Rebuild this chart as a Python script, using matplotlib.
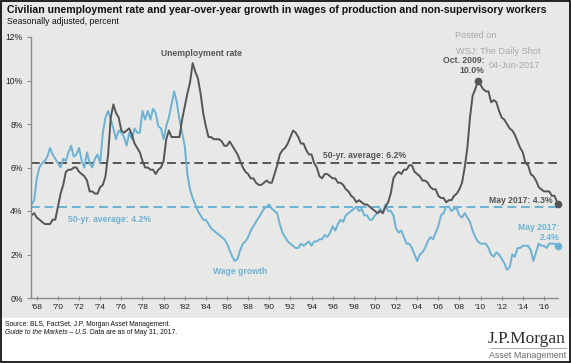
import numpy as np
import matplotlib.pyplot as plt
from matplotlib.patches import Rectangle

# quarterly readings, mid-1967 to Q1 2017, plus the last monthly print (May 2017)
start_year = 1967.5
last_date = 2017 + 4 / 12

unemployment = [
    3.8, 3.9,
    3.7, 3.6, 3.5, 3.4,   # 1968
    3.4, 3.4, 3.6, 3.6,
    4.2, 4.8, 5.2, 5.8,   # 1970
    5.9, 5.9, 6.0, 6.0,
    5.8, 5.7, 5.6, 5.4,
    4.9, 4.9, 4.8, 4.8,
    5.1, 5.2, 5.6, 6.6,
    8.3, 8.9, 8.5, 8.3,   # 1975
    7.7, 7.6, 7.7, 7.8,
    7.5, 7.1, 6.9, 6.7,
    6.3, 6.0, 6.0, 5.9,
    5.9, 5.7, 5.9, 6.0,
    6.3, 7.3, 7.7, 7.4,   # 1980
    7.4, 7.4, 7.4, 8.2,
    8.8, 9.4, 9.9, 10.8,
    10.4, 10.1, 9.4, 8.5,
    7.9, 7.4, 7.4, 7.3,
    7.3, 7.3, 7.2, 7.0,   # 1985
    7.0, 7.2, 7.0, 6.8,
    6.6, 6.3, 6.0, 5.8,
    5.7, 5.5, 5.5, 5.3,
    5.2, 5.2, 5.3, 5.4,
    5.3, 5.3, 5.7, 6.1,   # 1990
    6.6, 6.8, 6.9, 7.1,
    7.4, 7.7, 7.6, 7.4,
    7.1, 7.1, 6.8, 6.6,
    6.6, 6.2, 6.0, 5.6,
    5.5, 5.7, 5.7, 5.6,   # 1995
    5.5, 5.5, 5.3, 5.3,
    5.2, 5.0, 4.9, 4.7,
    4.6, 4.4, 4.5, 4.4,
    4.3, 4.3, 4.2, 4.1,
    4.0, 3.9, 4.0, 3.9,   # 2000
    4.2, 4.4, 4.8, 5.5,
    5.7, 5.8, 5.7, 5.9,
    5.9, 6.1, 6.1, 5.8,
    5.7, 5.6, 5.4, 5.4,
    5.3, 5.1, 5.0, 5.0,   # 2005
    4.7, 4.6, 4.6, 4.4,
    4.5, 4.5, 4.7, 4.8,
    5.0, 5.3, 6.0, 6.9,
    8.3, 9.3, 9.6, 10.0,
    9.8, 9.6, 9.5, 9.5,   # 2010
    9.0, 9.1, 9.0, 8.6,
    8.3, 8.2, 8.0, 7.8,
    7.7, 7.5, 7.2, 6.9,
    6.7, 6.2, 6.1, 5.7,
    5.6, 5.4, 5.1, 5.0,   # 2015
    4.9, 4.9, 4.9, 4.7,
    4.7,
    4.3,                  # May 2017
]

wages = [
    4.3, 4.5,
    5.5, 6.0, 6.2, 6.3,   # 1968
    6.5, 6.9, 6.6, 6.4,
    6.2, 6.0, 6.4, 6.3,   # 1970
    6.7, 7.0, 6.5, 6.6,
    6.9, 6.3, 6.0, 6.7,
    6.2, 6.0, 6.4, 6.6,
    6.2, 7.6, 8.3, 8.6,
    8.2, 7.8, 7.3, 7.7,   # 1975
    7.6, 7.4, 7.0, 7.6,
    7.3, 7.8, 7.6, 7.6,
    8.6, 8.2, 8.6, 8.2,
    8.7, 8.5, 7.9, 7.8,
    7.3, 7.9, 8.3, 8.9,   # 1980
    9.5, 9.0, 8.2, 7.6,
    7.0, 5.7, 5.0, 4.6,
    4.3, 4.0, 3.8, 3.6,
    3.6, 3.4, 3.2, 3.1,
    3.0, 2.9, 2.8, 2.7,   # 1985
    2.5, 2.2, 1.9, 1.7,
    1.8, 2.2, 2.5, 2.6,
    2.8, 3.1, 3.3, 3.5,
    3.7, 3.9, 4.1, 4.2,
    4.3, 4.1, 4.0, 3.9,   # 1990
    3.4, 3.0, 2.8, 2.6,
    2.5, 2.4, 2.3, 2.3,
    2.5, 2.4, 2.5, 2.6,
    2.4, 2.6, 2.6, 2.7,
    2.7, 2.9, 2.8, 3.0,   # 1995
    3.3, 3.1, 3.4, 3.6,
    3.5, 3.8, 3.9, 4.0,
    4.1, 4.2, 4.0, 4.1,
    3.8, 3.8, 3.6, 3.6,
    3.8, 3.9, 4.1, 3.9,   # 2000
    4.3, 4.0, 4.0, 3.8,
    3.2, 3.0, 3.1, 2.8,
    2.5, 2.5, 2.3, 2.0,
    1.7, 2.0, 2.1, 2.3,
    2.6, 2.8, 2.7, 3.0,   # 2005
    3.3, 3.8, 3.9, 4.2,
    4.2, 4.0, 4.1, 4.1,
    3.8, 3.7, 3.9, 3.7,
    3.5, 3.1, 2.8, 2.6,
    2.5, 2.5, 2.5, 2.3,   # 2010
    2.0, 1.9, 2.1, 2.0,
    1.8, 1.6, 1.3, 1.4,
    2.0, 1.9, 2.3, 2.3,
    2.4, 2.4, 2.4, 2.2,
    1.7, 2.1, 2.5, 2.4,   # 2015
    2.4, 2.3, 2.5, 2.5,
    2.5,
    2.4,                  # May 2017
]

unemp_avg = 6.2
wage_avg = 4.2
year_ticks = list(range(1968, 2017, 2))
year_labels = ["'%02d" % (y % 100) for y in year_ticks]
y_ticks = [0, 2, 4, 6, 8, 10, 12]
y_labels = ['%d%%' % v for v in y_ticks]

n_q = len(unemployment) - 1
dates = list(start_year + 0.25 * np.arange(n_q)) + [last_date]

GRAY = '#555555'
BLUE = '#6cb2d4'
BG = '#e8e8e6'

W, H = 571, 363
fig = plt.figure(figsize=(W / 100, H / 100), dpi=100)
fig.patch.set_facecolor('white')


def fx(px):
    return px / W


def fy(py):
    return 1 - py / H


# grey panel behind chart + outer frame
fig.patches.append(Rectangle((0, fy(318)), 1, 1 - fy(318), transform=fig.transFigure,
                             facecolor=BG, edgecolor='none', zorder=-5))
fig.patches.append(Rectangle((0.001, 0.002), 0.997, 0.996, transform=fig.transFigure,
                             facecolor='none', edgecolor='black', lw=1.2, zorder=10))

ax = fig.add_axes([fx(31), fy(298), fx(558) - fx(31), fy(37) - fy(298)])
ax.set_facecolor('none')
ax.set_zorder(2)

ax.axhline(unemp_avg, color=GRAY, lw=1.4, dashes=(4.5, 2.5))
ax.axhline(wage_avg, color=BLUE, lw=1.4, dashes=(4.5, 2.5))
ax.plot(dates, wages, color=BLUE, lw=1.4)
ax.plot(dates, unemployment, color=GRAY, lw=1.4)

# end-point / peak markers
peak_i = int(np.argmax(unemployment[150:])) + 150
ax.plot(dates[peak_i], unemployment[peak_i], 'o', color=GRAY, ms=4.5, clip_on=False)
ax.plot(dates[-1], unemployment[-1], 'o', color=GRAY, ms=4.5, clip_on=False)
ax.plot(dates[-1], wages[-1], 'o', color=BLUE, ms=4.5, clip_on=False)

ax.set_xlim(1967.45, 2017.33)
ax.set_ylim(0, 12)
ax.set_xticks(year_ticks)
ax.set_xticklabels(year_labels)
ax.set_yticks(y_ticks)
ax.set_yticklabels(y_labels)
for s in ['top', 'right']:
    ax.spines[s].set_visible(False)
for s in ['left', 'bottom']:
    ax.spines[s].set_color('#8a8a8a')
    ax.spines[s].set_linewidth(1.0)
ax.tick_params(axis='x', length=3, direction='inout', color='#8a8a8a', labelsize=6.0,
               labelcolor='#222222', pad=2.5)
ax.tick_params(axis='y', length=3, direction='out', color='#8a8a8a', labelsize=6.2,
               labelcolor='#222222', pad=3)
for lab in ax.get_xticklabels() + ax.get_yticklabels():
    lab.set_family('Liberation Sans')

txt = dict(family='Liberation Sans', fontsize=6.2)
ax.text(1983.6, 11.26, 'Unemployment rate', color=GRAY, ha='center', va='center',
        fontweight='bold', **txt)
ax.text(1987.25, 1.2, 'Wage growth', color=BLUE, ha='center', va='center',
        fontweight='bold', **txt)
ax.text(1999.0, 6.53, '50-yr. average: 6.2%', color=GRAY, ha='center', va='center',
        fontweight='bold', **txt)
ax.text(1974.9, 3.6, '50-yr. average: 4.2%', color=BLUE, ha='center', va='center',
        fontweight='bold', **txt)
ax.text(2010.35, 10.68, 'Oct. 2009:\n10.0%', color=GRAY, ha='right', va='center',
        fontweight='bold', multialignment='right', linespacing=1.15, **txt)
ax.text(2016.85, 4.5, 'May 2017: 4.3%', color=GRAY, ha='right', va='center',
        fontweight='bold', **txt)
ax.text(2017.45, 3.0, 'May 2017:\n2.4%', color=BLUE, ha='right', va='center',
        fontweight='bold', multialignment='right', linespacing=1.15, **txt)

# watermark
wm = dict(family='Liberation Sans', fontsize=6.6, color='#a8a8a8', va='center', ha='left')
fig.text(fx(455), fy(35), 'Posted on', **wm)
fig.text(fx(456), fy(51), 'WSJ: The Daily Shot', **wm)
fig.text(fx(489), fy(66), '04-Jun-2017', **wm)

# titles
fig.text(fx(7), fy(10), 'Civilian unemployment rate and year-over-year growth in wages of '
         'production and non-supervisory workers', family='Liberation Sans',
         fontweight='bold', fontsize=7.6, color='#111111', va='center', ha='left')
fig.text(fx(7), fy(22), 'Seasonally adjusted, percent', family='Liberation Sans',
         fontsize=6.2, color='#111111', va='center', ha='left')

# footer
fig.text(fx(5), fy(325), 'Source: BLS, FactSet, J.P. Morgan Asset Management.',
         family='Liberation Sans', fontsize=4.9, color='#111111', va='center')
foot = fig.text(fx(5), fy(333), 'Guide to the Markets \u2013 U.S.', family='Liberation Sans',
                fontsize=4.9, style='italic', color='#111111', va='center')
fig.canvas.draw()
bb = foot.get_window_extent()
fig.text(bb.x1 / W + 0.003, fy(333), 'Data are as of May 31, 2017.', family='Liberation Sans',
         fontsize=4.9, color='#111111', va='center')

# logo
fig.text(fx(566), fy(339), 'J.P.Morgan', family='Liberation Serif', fontsize=12.5,
         color='#2e2e2e', ha='right', va='center')
fig.add_artist(plt.Line2D([fx(490), fx(566)], [fy(348), fy(348)], color='#9a9a9a', lw=0.6))
fig.text(fx(566), fy(355.5), 'Asset Management', family='Liberation Sans', fontsize=6.4,
         color='#666666', ha='right', va='center')

fig.savefig('out.png', dpi=100)
